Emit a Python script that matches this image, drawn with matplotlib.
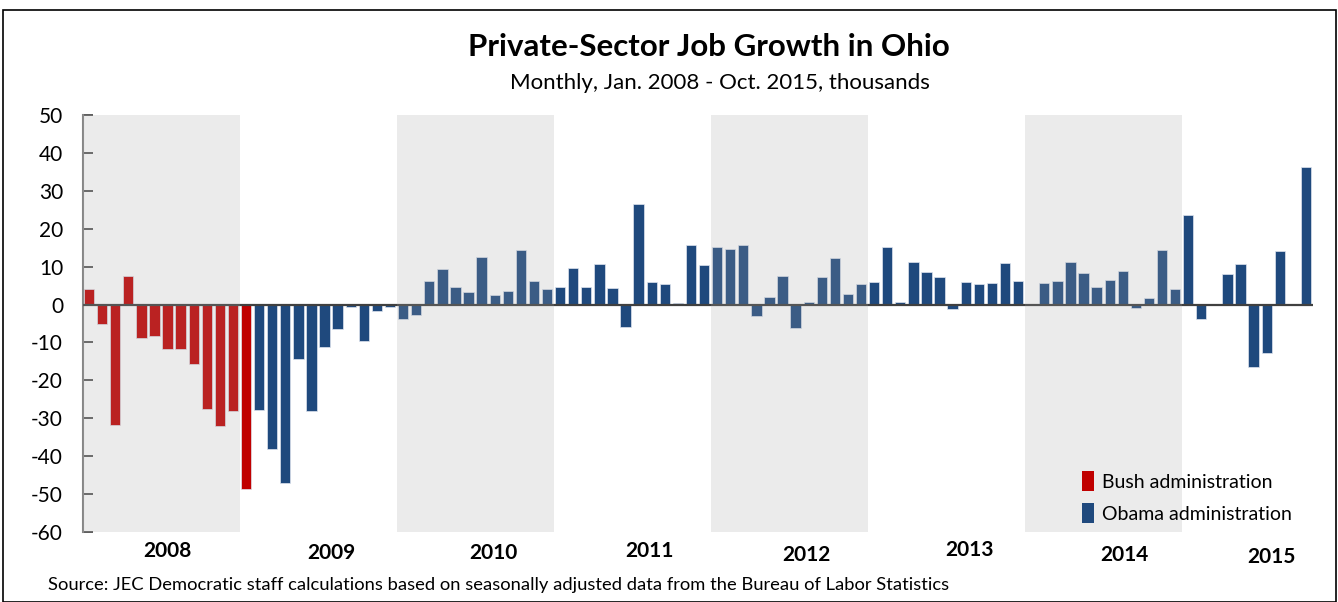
import numpy as np
import matplotlib
matplotlib.use("Agg")
import matplotlib.pyplot as plt
from matplotlib.patches import Rectangle

plt.rcParams["font.family"] = ["Lato", "DejaVu Sans"]
plt.rcParams["axes.unicode_minus"] = False

# Monthly private-sector job change, Jan 2008 - Oct 2015 (thousands)
jobs_2008 = [4.2, -5.2, -31.8, 7.5, -8.7, -8.2, -11.6, -11.8, -15.8, -27.6, -32.1, -28.2]
jobs_2009 = [-48.6, -27.7, -38.2, -47.1, -14.3, -28.2, -11.1, -6.5, -0.7, -9.7, -1.7, -0.7]
jobs_2010 = [-3.7, -2.7, 6.3, 9.5, 4.6, 3.3, 12.6, 2.6, 3.5, 14.4, 6.2, 4.0]
jobs_2011 = [4.7, 9.6, 4.6, 10.7, 4.3, -5.8, 26.4, 6.0, 5.4, 0.4, 15.6, 10.4]
jobs_2012 = [15.2, 14.7, 15.6, -2.9, 2.0, 7.6, -6.1, 0.8, 7.2, 12.2, 2.7, 5.4]
jobs_2013 = [6.0, 15.2, 0.8, 11.1, 8.6, 7.2, -1.2, 6.0, 5.4, 5.7, 11.0, 6.3]
jobs_2014 = [0.0, 5.7, 6.2, 11.1, 8.4, 4.6, 6.6, 8.8, -1.0, 1.8, 14.3, 4.1]
jobs_2015 = [23.5, -3.9, 0.1, 8.1, 10.6, -16.4, -12.9, 14.0, 0.0, 36.2]

values = jobs_2008 + jobs_2009 + jobs_2010 + jobs_2011 + jobs_2012 + jobs_2013 + jobs_2014 + jobs_2015
years = ["2008", "2009", "2010", "2011", "2012", "2013", "2014", "2015"]
bush_months = 13  # Jan 2008 - Jan 2009

red = "#C00000"
blue = "#1F497D"
colors = [red] * bush_months + [blue] * (len(values) - bush_months)

W, H = 1338, 602
fig = plt.figure(figsize=(W / 100, H / 100), dpi=100)
ax = fig.add_axes([82.5 / W, 1 - 532 / H, 1230 / W, 417 / H])

x = np.arange(len(values))
ax.bar(x, values, width=0.79, color=colors, edgecolor="#dfe5ee", linewidth=0.5, zorder=2)
ax.axhline(0, color="#404040", linewidth=1.6, zorder=3)

# shaded years drawn on top (lightens the bars like the original)
for start in [0, 24, 48, 72]:
    ax.axvspan(start - 0.5, start + 11.5, color="#a4a4a4", alpha=0.21, lw=0, zorder=4)

ax.set_xlim(-0.5, len(values) - 0.5)
ax.set_ylim(-60, 50)
ax.set_yticks(range(-60, 51, 10))
ax.tick_params(axis="y", direction="in", length=7, width=1.2, color="#404040",
               labelsize=15, pad=14)
ax.set_xticks([])
for s in ["top", "right", "bottom"]:
    ax.spines[s].set_visible(False)
ax.spines["left"].set_color("#868686")
ax.spines["left"].set_linewidth(1.5)

# year labels (slightly staggered as in the original)
label_x = [6.0, 18.5, 30.9, 42.8, 54.8, 67.3, 79.1, 90.4]
label_y = [551, 553, 553, 551, 555, 550, 555, 557]
for yr, lx, ly in zip(years, label_x, label_y):
    fig.text((82.5 + (lx + 0.5) * 13.085) / W, 1 - ly / H, yr,
             ha="center", va="center", fontsize=15, fontweight="bold")

# legend
for lab, col, ly in [("Bush administration", red, 481), ("Obama administration", blue, 513)]:
    fig.patches.append(Rectangle((1082 / W, 1 - (ly + 10) / H), 12 / W, 20 / H,
                                 transform=fig.transFigure, facecolor=col, edgecolor="none", zorder=5))
    fig.text(1102 / W, 1 - (ly + 2) / H, lab, ha="left", va="center", fontsize=14)

fig.text(709 / W, 1 - 47 / H, "Private-Sector Job Growth in Ohio",
         ha="center", va="center", fontsize=22.5, fontweight="bold")
fig.text(720 / W, 1 - 83 / H, "Monthly, Jan. 2008 - Oct. 2015, thousands",
         ha="center", va="center", fontsize=16)
fig.text(48 / W, 1 - 585 / H,
         "Source: JEC Democratic staff calculations based on seasonally adjusted data from the Bureau of Labor Statistics",
         ha="left", va="center", fontsize=13.2)

fig.patches.append(Rectangle((3 / W, 0), 1333 / W, 1 - 10 / H, transform=fig.transFigure,
                             fill=False, edgecolor="#000000", linewidth=1.2))

fig.savefig("out.png", dpi=100)
